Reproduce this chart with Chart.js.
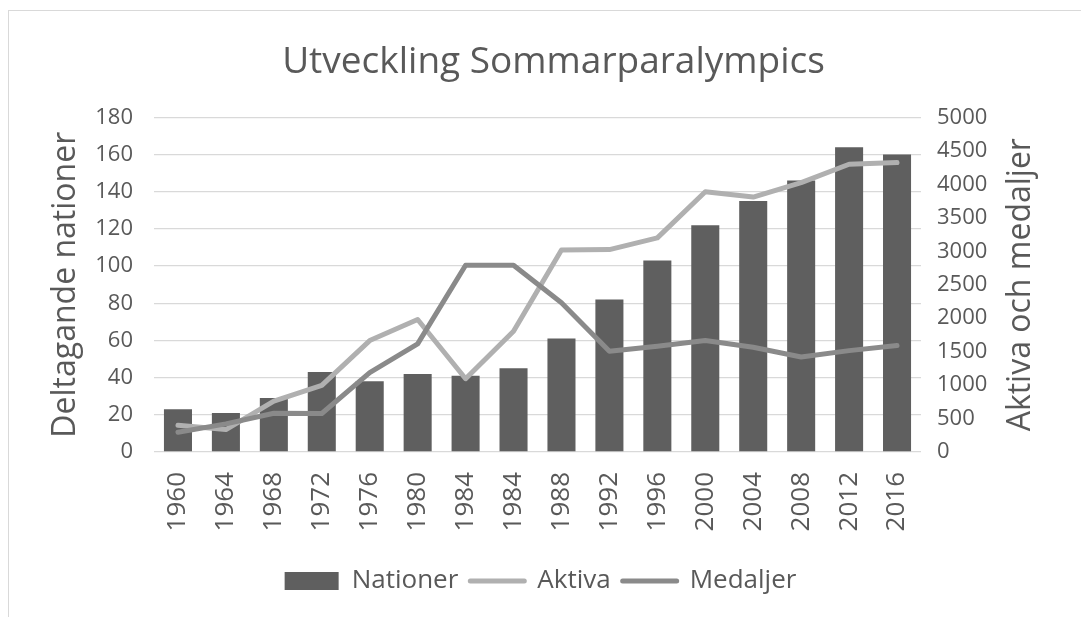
<!DOCTYPE html>
<html>
<head>
<meta charset="utf-8">
<title>Utveckling Sommarparalympics</title>
<script src="https://cdn.jsdelivr.net/npm/chart.js@4.4.1/dist/chart.umd.min.js"></script>
<style>
    html, body { margin: 0; padding: 0; background: #fff; overflow: hidden; }
    #frame { position: absolute; left: 8px; top: 10px; width: 1200px; height: 700px; border: 1px solid #d9d9d9; }
    #wrap { position: absolute; left: 0; top: 0; width: 1081px; height: 617px; }
</style>
</head>
<body>
<div id="frame"></div>
<div id="wrap"><canvas id="myChart" width="1081" height="617"></canvas></div>
<script>
var years = ['1960', '1964', '1968', '1972', '1976', '1980', '1984', '1984', '1988', '1992', '1996', '2000', '2004', '2008', '2012', '2016'];
var nationer = [23, 21, 29, 43, 38, 42, 41, 45, 61, 82, 103, 122, 135, 146, 164, 160];
var aktiva = [400, 335, 760, 995, 1665, 1980, 1095, 1805, 3020, 3025, 3200, 3890, 3810, 4025, 4300, 4325];
var medaljer = [295, 420, 580, 575, 1185, 1615, 2790, 2790, 2230, 1505, 1580, 1665, 1565, 1420, 1515, 1590];

var textColor = '#595959';
var gridColor = '#d9d9d9';
var barColor = '#5f5f5f';
var aktivaColor = '#b0b0b0';
var medaljerColor = '#8a8a8a';

// Excel draws the right axis title bottom-to-top, Chart.js would flip it
var rightTitle = {
    id: 'rightTitle',
    afterDraw: function (chart) {
        var ctx = chart.ctx;
        var area = chart.chartArea;
        ctx.save();
        ctx.translate(chart.scales.y1.right - 60, (area.top + area.bottom) / 2);
        ctx.rotate(-Math.PI / 2);
        ctx.font = '32px "Open Sans"';
        ctx.fillStyle = textColor;
        ctx.textAlign = 'center';
        ctx.textBaseline = 'middle';
        ctx.fillText('Aktiva och medaljer', 0, 0);
        ctx.restore();
    }
};

// title is centred on the whole Excel chart frame, which is wider than the picture
var shiftTitle = {
    id: 'shiftTitle',
    afterLayout: function (chart) {
        chart.titleBlock.left += 13;
        chart.titleBlock.right += 13;
    }
};

var ctx = document.getElementById("myChart");
var myChart = new Chart(ctx, {
    type: 'bar',
    data: {
        labels: years,
        datasets: [{
            label: "Nationer",
            type: "bar",
            backgroundColor: barColor,
            data: nationer,
            yAxisID: 'y',
            barPercentage: 0.585,
            categoryPercentage: 1,
            order: 3
        }, {
            label: "Aktiva",
            type: "line",
            borderColor: aktivaColor,
            borderWidth: 5,
            borderCapStyle: 'round',
            borderJoinStyle: 'round',
            pointRadius: 0,
            tension: 0,
            fill: false,
            data: aktiva,
            yAxisID: 'y1',
            order: 2
        }, {
            label: "Medaljer",
            type: "line",
            borderColor: medaljerColor,
            borderWidth: 5,
            borderCapStyle: 'round',
            borderJoinStyle: 'round',
            pointRadius: 0,
            tension: 0,
            fill: false,
            data: medaljer,
            yAxisID: 'y1',
            order: 1
        }]
    },
    options: {
        responsive: false,
        animation: false,
        layout: {padding: {left: 0, right: 0, top: 0, bottom: 13}},
        plugins: {
            title: {
                display: true,
                text: 'Utveckling Sommarparalympics',
                color: textColor,
                font: {family: 'Open Sans', size: 37, weight: 'normal'},
                padding: {top: 40, bottom: 33}
            },
            legend: {
                position: 'bottom',
                labels: {
                    color: textColor,
                    font: {family: 'Open Sans', size: 26},
                    usePointStyle: true,
                    pointStyleWidth: 54,
                    boxHeight: 18,
                    padding: 12,
                    generateLabels: function () {
                        return [
                            {text: 'Nationer', pointStyle: 'rect', fillStyle: barColor, strokeStyle: barColor, lineWidth: 0, fontColor: textColor, datasetIndex: 0},
                            {text: 'Aktiva', pointStyle: 'line', fillStyle: aktivaColor, strokeStyle: aktivaColor, lineWidth: 5, lineCap: 'round', fontColor: textColor, datasetIndex: 1},
                            {text: 'Medaljer', pointStyle: 'line', fillStyle: medaljerColor, strokeStyle: medaljerColor, lineWidth: 5, lineCap: 'round', fontColor: textColor, datasetIndex: 2}
                        ];
                    }
                }
            },
            tooltip: {enabled: false}
        },
        scales: {
            x: {
                grid: {display: false, drawTicks: false},
                border: {display: false},
                ticks: {
                    color: textColor,
                    font: {family: 'Open Sans', size: 26},
                    minRotation: 90,
                    maxRotation: 90,
                    autoSkip: false,
                    padding: 20
                },
                afterFit: function (scale) { scale.height = 104; }
            },
            y: {
                position: 'left',
                min: 0,
                max: 180,
                ticks: {
                    stepSize: 20,
                    color: textColor,
                    font: {family: 'Open Sans', size: 22},
                    padding: 21
                },
                grid: {color: gridColor, lineWidth: 1.3, drawTicks: false},
                border: {display: false},
                title: {
                    display: true,
                    text: 'Deltagande nationer',
                    color: textColor,
                    font: {family: 'Open Sans', size: 32},
                    padding: {top: 47, bottom: 0}
                },
                afterFit: function (scale) { scale.width = 154; }
            },
            y1: {
                position: 'right',
                min: 0,
                max: 5000,
                ticks: {
                    stepSize: 500,
                    color: textColor,
                    font: {family: 'Open Sans', size: 22},
                    padding: 16,
                    format: {useGrouping: false}
                },
                grid: {display: false, drawTicks: false},
                border: {display: false},
                afterFit: function (scale) { scale.width = 160; }
            }
        }
    },
    plugins: [rightTitle, shiftTitle]
});
</script>
</body>
</html>
